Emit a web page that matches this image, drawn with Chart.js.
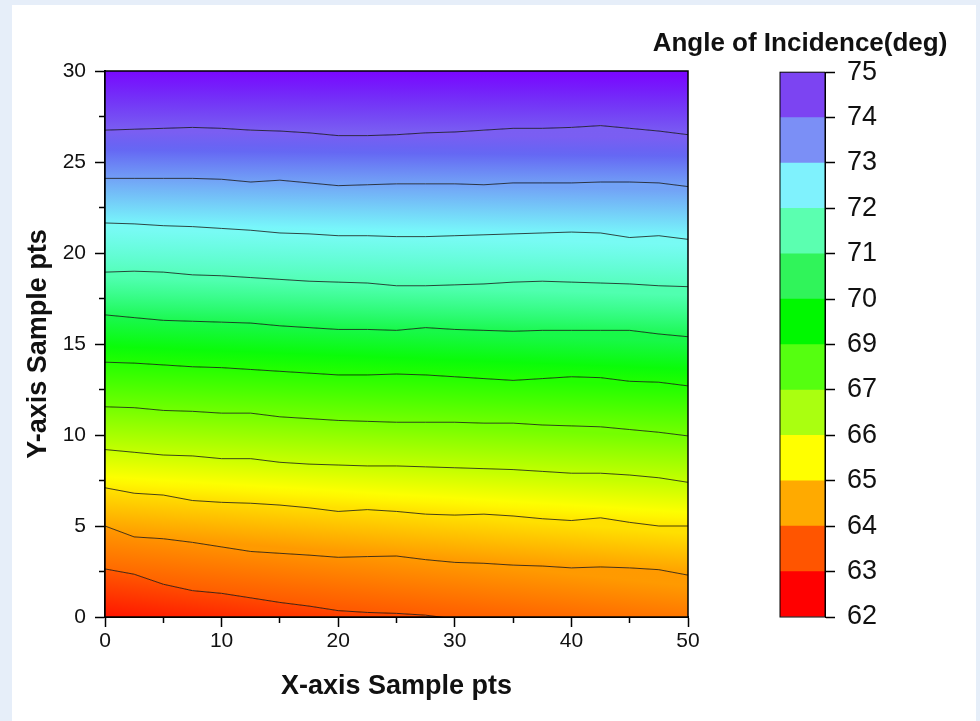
<!DOCTYPE html>
<html>
<head>
<meta charset="utf-8">
<script src="https://cdn.jsdelivr.net/npm/chart.js@4.4.1/dist/chart.umd.min.js"></script>
<style>
html, body { margin: 0; padding: 0; }
body { background: #e6eef9; width: 980px; height: 721px; overflow: hidden; position: relative; }
#panel { position: absolute; left: 12px; top: 5px; width: 964px; height: 716px; background: #fff; }
#plot { position: absolute; left: 0; top: 0; }
#bar { position: absolute; left: 620px; top: 0; }
</style>
</head>
<body>
<div id="panel"></div>
<canvas id="plot" width="720" height="721"></canvas>
<canvas id="bar" width="360" height="721"></canvas>
<script>
// Dados: posições x das amostras e as linhas de contorno (y em cada x)
const xSamples = [0, 2.5, 5, 7.5, 10, 12.5, 15, 17.5, 20, 22.5, 25, 27.5, 30, 32.5, 35, 37.5, 40, 42.5, 45, 47.5, 50];
const contour1 = [2.64, 2.35, 1.8, 1.45, 1.3, 1.05, 0.8, 0.6, 0.35, 0.25, 0.2, 0.1, -0.1, -0.3, -0.45, -0.6, -0.7, -0.85, -0.95, -1.05, -1.2];
const contour2 = [5.0, 4.4, 4.3, 4.1, 3.85, 3.6, 3.5, 3.4, 3.28, 3.32, 3.35, 3.15, 3.0, 2.95, 2.85, 2.8, 2.7, 2.75, 2.7, 2.6, 2.3];
const contour3 = [7.1, 6.8, 6.7, 6.4, 6.3, 6.25, 6.15, 6.0, 5.8, 5.9, 5.8, 5.65, 5.6, 5.65, 5.55, 5.4, 5.3, 5.45, 5.2, 5.0, 5.0];
const contour4 = [9.2, 9.05, 8.9, 8.85, 8.7, 8.7, 8.5, 8.4, 8.35, 8.3, 8.3, 8.25, 8.2, 8.15, 8.1, 8.0, 7.9, 7.9, 7.8, 7.65, 7.4];
const contour5 = [11.55, 11.5, 11.35, 11.3, 11.2, 11.2, 11.0, 10.9, 10.8, 10.75, 10.7, 10.7, 10.7, 10.65, 10.65, 10.55, 10.5, 10.45, 10.3, 10.15, 9.95];
const contour6 = [14.0, 13.95, 13.85, 13.75, 13.7, 13.6, 13.5, 13.4, 13.3, 13.3, 13.35, 13.3, 13.2, 13.1, 13.0, 13.1, 13.2, 13.15, 12.95, 12.9, 12.7];
const contour7 = [16.6, 16.45, 16.3, 16.25, 16.2, 16.15, 16.0, 15.9, 15.8, 15.8, 15.75, 15.9, 15.8, 15.75, 15.7, 15.75, 15.75, 15.75, 15.75, 15.55, 15.4];
const contour8 = [18.95, 19.0, 18.95, 18.8, 18.75, 18.65, 18.55, 18.45, 18.4, 18.35, 18.2, 18.2, 18.25, 18.3, 18.4, 18.45, 18.4, 18.35, 18.3, 18.2, 18.15];
const contour9 = [21.65, 21.6, 21.5, 21.45, 21.35, 21.25, 21.1, 21.05, 20.95, 20.95, 20.9, 20.9, 20.95, 21.0, 21.05, 21.1, 21.15, 21.1, 20.85, 20.95, 20.75];
const contour10 = [24.1, 24.1, 24.1, 24.1, 24.05, 23.9, 24.0, 23.85, 23.7, 23.75, 23.8, 23.8, 23.8, 23.75, 23.85, 23.85, 23.85, 23.9, 23.9, 23.85, 23.65];
const contour11 = [26.75, 26.8, 26.85, 26.9, 26.85, 26.75, 26.7, 26.6, 26.45, 26.45, 26.5, 26.6, 26.65, 26.75, 26.85, 26.85, 26.9, 27.0, 26.85, 26.7, 26.5];
const contours = [contour1, contour2, contour3, contour4, contour5, contour6, contour7, contour8, contour9, contour10, contour11];

// Escala de cores (legenda)
const scaleLabels = ['62', '63', '64', '65', '66', '67', '69', '70', '71', '72', '73', '74', '75'];
const scaleBands = [1, 1, 1, 1, 1, 1, 1, 1, 1, 1, 1, 1];

// Cores
const levelColors = ['#ff1500', '#ff5a00', '#ff9a00', '#ffe000', '#c4ff00', '#74ff00', '#22ff00',
  '#18f848', '#50ffb0', '#78fbf4', '#72a2f6', '#7a5ef2', '#7a08ff'];
const barColors = ['#ff0000', '#ff5500', '#ffaa00', '#ffff00', '#aaff10', '#55ff10', '#00f800',
  '#30f45a', '#5bffb0', '#7ff2fd', '#7b8ff6', '#7c44f2'];

const fam = "'Liberation Sans', Arial, sans-serif";
const txt = '#111';

function hexToHsl(hex) {
  const r = parseInt(hex.slice(1, 3), 16) / 255;
  const g = parseInt(hex.slice(3, 5), 16) / 255;
  const b = parseInt(hex.slice(5, 7), 16) / 255;
  const max = Math.max(r, g, b), min = Math.min(r, g, b);
  const l = (max + min) / 2;
  let h = 0, s = 0;
  if (max !== min) {
    const d = max - min;
    s = l > 0.5 ? d / (2 - max - min) : d / (max + min);
    if (max === r) h = (g - b) / d + (g < b ? 6 : 0);
    else if (max === g) h = (b - r) / d + 2;
    else h = (r - g) / d + 4;
    h *= 60;
  }
  return [h, s * 100, l * 100];
}

function mixHsl(a, b, t) {
  const A = hexToHsl(a), B = hexToHsl(b);
  return 'hsl(' + (A[0] + (B[0] - A[0]) * t).toFixed(1) + ',' +
    (A[1] + (B[1] - A[1]) * t).toFixed(1) + '%,' +
    (A[2] + (B[2] - A[2]) * t).toFixed(1) + '%)';
}

// gradiente de cada faixa entre duas linhas de contorno
function bandFill(k) {
  return function (ctx) {
    const chart = ctx.chart;
    const xs = chart.scales.x, ys = chart.scales.y;
    if (!chart.chartArea || !xs || !ys) return levelColors[k];
    const n = xSamples.length;
    const j = (k === 0 || k === contours.length) ? 0 : Math.floor(n / 2);
    const lower = k === 0 ? ys.min : contours[k - 1][j];
    const upper = k === contours.length ? ys.max : contours[k][j];
    const dirs = [];
    if (k > 0) dirs.push(contours[k - 1]);
    if (k < contours.length) dirs.push(contours[k]);
    const dx = xs.getPixelForValue(xSamples[n - 1]) - xs.getPixelForValue(xSamples[0]);
    let dy = 0;
    dirs.forEach(c => { dy += ys.getPixelForValue(c[n - 1]) - ys.getPixelForValue(c[0]); });
    dy /= dirs.length;
    const len = Math.hypot(dx, dy);
    const nx = -dy / len, ny = dx / len;
    const px = xs.getPixelForValue(xSamples[j]);
    const y0 = ys.getPixelForValue(lower), y1 = ys.getPixelForValue(upper);
    const proj = (y1 - y0) * ny;
    const g = chart.ctx.createLinearGradient(px, y0, px + nx * proj, y0 + ny * proj);
    const steps = 8;
    for (let s = 0; s <= steps; s++) {
      g.addColorStop(s / steps, mixHsl(levelColors[k], levelColors[k + 1], s / steps));
    }
    return g;
  };
}

const frame = {
  id: 'frame',
  afterDraw(chart) {
    const { ctx, chartArea: a } = chart;
    ctx.save();
    ctx.strokeStyle = '#000';
    ctx.lineWidth = chart.canvas.id === 'plot' ? 1.5 : 1;
    ctx.strokeRect(a.left, a.top, a.right - a.left, a.bottom - a.top);
    ctx.restore();
  }
};

const datasets = contours.map((c, i) => ({
  data: xSamples.map((x, j) => ({ x: x, y: c[j] })),
  fill: i === 0 ? 'start' : '-1',
  backgroundColor: bandFill(i),
  borderColor: 'rgba(0,0,0,0.72)',
  borderWidth: 1,
  pointRadius: 0,
  tension: 0
}));
datasets.push({
  data: xSamples.map((x, j) => ({ x: x, y: contour11[j] })),
  fill: 'end',
  backgroundColor: bandFill(contours.length),
  borderColor: 'transparent',
  borderWidth: 0,
  pointRadius: 0
});

window.onload = function () {
  new Chart(document.getElementById('plot'), {
    type: 'line',
    data: { datasets: datasets },
    options: {
      responsive: false,
      animation: false,
      layout: { padding: { left: 0, right: 32, top: 71, bottom: 0 } },
      plugins: {
        legend: { display: false },
        tooltip: { enabled: false },
        filler: { drawTime: 'beforeDatasetsDraw' }
      },
      scales: {
        x: {
          type: 'linear', min: 0, max: 50,
          afterFit: s => { s.height = 104; },
          ticks: {
            stepSize: 5, autoSkip: false, maxRotation: 0, padding: 2,
            callback: v => (v % 10 === 0 ? v : ''),
            font: { family: fam, size: 21 }, color: txt
          },
          grid: {
            drawOnChartArea: false, tickLength: 10, tickWidth: 1.5, tickColor: '#000',
            tickBorderDash: c => (c.tick && c.tick.value % 10 !== 0 ? [5, 20] : [])
          },
          border: { color: '#000', width: 2 },
          title: {
            display: true, text: 'X-axis Sample pts', color: txt,
            font: { family: fam, size: 27, weight: 'bold' },
            padding: { top: 0, bottom: 18 }
          }
        },
        y: {
          min: 0, max: 30,
          afterFit: s => { s.width = 105; },
          ticks: {
            stepSize: 2.5, autoSkip: false, padding: 9,
            callback: v => (v % 5 === 0 ? v : ''),
            font: { family: fam, size: 21 }, color: txt
          },
          grid: {
            drawOnChartArea: false, tickLength: 10, tickWidth: 1.5, tickColor: '#000',
            tickBorderDash: c => (c.tick && c.tick.value % 5 !== 0 ? [0, 4, 10] : [])
          },
          border: { color: '#000', width: 2 },
          title: {
            display: true, text: 'Y-axis Sample pts', color: txt,
            font: { family: fam, size: 27, weight: 'bold' },
            padding: { top: 22, bottom: 0 }
          }
        }
      }
    },
    plugins: [frame]
  });

  new Chart(document.getElementById('bar'), {
    type: 'bar',
    data: {
      labels: [''],
      datasets: barColors.map((c, i) => ({
        data: [scaleBands[i]],
        xAxisID: 'x',
        yAxisID: 'y',
        backgroundColor: c,
        borderWidth: 0,
        barPercentage: 1,
        categoryPercentage: 1
      }))
    },
    options: {
      responsive: false,
      animation: false,
      layout: { padding: { left: 0, right: 0, top: 0, bottom: 104 } },
      plugins: {
        legend: { display: false },
        tooltip: { enabled: false },
        title: {
          display: true, text: 'Angle of Incidence(deg)', color: txt,
          font: { family: fam, size: 26, weight: 'bold' },
          padding: { top: 28, bottom: 13 }
        }
      },
      scales: {
        x: { display: false, stacked: true },
        y: {
          stacked: true, position: 'right', min: 0, max: 12,
          afterFit: s => { s.width = 155; },
          ticks: {
            stepSize: 1, autoSkip: false, padding: 12,
            callback: v => scaleLabels[v],
            font: { family: fam, size: 27 }, color: txt
          },
          grid: { drawOnChartArea: false, tickLength: 10, tickWidth: 1.5, tickColor: '#000' },
          border: { color: '#000', width: 1 }
        },
        gap: {
          type: 'linear', position: 'left', display: true,
          afterFit: s => { s.width = 160; },
          ticks: { display: false },
          grid: { display: false },
          border: { display: false }
        }
      }
    },
    plugins: [frame]
  });
};
</script>
</body>
</html>
